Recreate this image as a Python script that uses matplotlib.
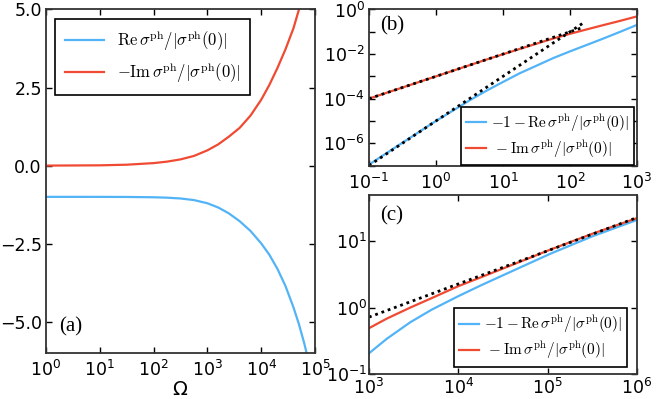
import numpy as np
import matplotlib
matplotlib.use('Agg')
import matplotlib.pyplot as plt

# Couleurs
bleu = '#52b4f7'
rouge = '#f04a32'

# Panneau (a) : Omega, Re sigma, -Im sigma
omega_a = [1, 10, 32, 100, 178, 316, 562, 1000, 1585, 2512, 3981, 6310, 10000,
           14125, 19953, 28184, 39811, 50119, 63096, 79433]
re_a = [-1.0, -1.0006, -1.003, -1.013, -1.026, -1.052, -1.103, -1.205, -1.34,
        -1.53, -1.78, -2.09, -2.49, -2.85, -3.30, -3.85, -4.54, -5.07, -5.69, -6.40]
im_a = [0.001, 0.0098, 0.030, 0.081, 0.128, 0.20, 0.31, 0.49, 0.68, 0.93, 1.21,
        1.60, 2.11, 2.58, 3.12, 3.72, 4.40, 4.99, 5.65, 6.4]

# Panneau (b) : petites frequences
omega_b = [0.1, 0.316, 1.0, 1.78, 3.16, 5.62, 10, 17.8, 31.6, 56.2, 100, 178,
           316, 562, 1000]
re_b = [1.1e-7, 1.05e-6, 1.0e-5, 2.88e-5, 8.3e-5, 2.24e-4, 5.6e-4, 1.38e-3,
        3.0e-3, 6.6e-3, 0.0132, 0.0257, 0.050, 0.100, 0.204]
im_b = [1.0e-4, 3.16e-4, 1.0e-3, 1.78e-3, 3.16e-3, 5.62e-3, 9.8e-3, 0.017,
        0.0292, 0.050, 0.081, 0.128, 0.20, 0.31, 0.49]
asym_x_b = [0.1, 160]
asym_lin_b = [1.0e-4, 0.16]
asym_quad_b = [1.0e-7, 0.256]

# Panneau (c) : grandes frequences
omega_c = [1000, 1585, 2884, 5012, 10000, 17783, 29512, 56234, 107152, 316228, 1000000]
re_c = [0.205, 0.34, 0.60, 0.93, 1.49, 2.16, 2.95, 4.38, 6.5, 11.9, 21.0]
im_c = [0.49, 0.685, 1.00, 1.39, 2.11, 2.86, 3.75, 5.3, 7.5, 13.0, 22.4]
asym_x_c = [1000, 1000000]
asym_c = [0.72, 22.8]

lab_re = r'$\mathrm{Re}\,\sigma^{\mathrm{ph}}/|\sigma^{\mathrm{ph}}(0)|$'
lab_im = r'$-\mathrm{Im}\,\sigma^{\mathrm{ph}}/|\sigma^{\mathrm{ph}}(0)|$'
lab_re2 = r'$-1-\mathrm{Re}\,\sigma^{\mathrm{ph}}/|\sigma^{\mathrm{ph}}(0)|$'
lab_im2 = r'$\,-\mathrm{Im}\,\sigma^{\mathrm{ph}}/|\sigma^{\mathrm{ph}}(0)|$'

pointille = (0, (1, 1.4))


def style_axes(ax, pad_x=5, pad_y=3):
    ax.tick_params(which='both', direction='in', top=True, right=True,
                   labelsize=12.5, width=1, length=4)
    ax.tick_params(axis='y', pad=pad_y)
    ax.tick_params(axis='x', pad=pad_x)
    ax.minorticks_off()
    for s in ax.spines.values():
        s.set_linewidth(1.3)
        s.set_color('#333333')


def legende(ax, h, taille, **kw):
    leg = ax.legend(handles=h, fancybox=False, framealpha=1,
                    prop={'size': taille, 'math_fontfamily': 'cm'}, **kw)
    leg.get_frame().set_edgecolor('black')
    leg.get_frame().set_linewidth(1.2)
    return leg


fig = plt.figure(figsize=(6.64, 3.99), dpi=100)
ax_a = fig.add_axes([0.0693, 0.1153, 0.4051, 0.8609])
ax_b = fig.add_axes([0.5557, 0.5852, 0.4036, 0.3910])
ax_c = fig.add_axes([0.5557, 0.0627, 0.4036, 0.4486])

# (a)
l1, = ax_a.plot(omega_a, re_a, color=bleu, lw=1.6, label=lab_re)
l2, = ax_a.plot(omega_a, im_a, color=rouge, lw=1.6, label=lab_im)
ax_a.set_xscale('log')
ax_a.set_xlim(1, 1e5)
ax_a.set_ylim(-6, 5)
ax_a.set_xticks([1e0, 1e1, 1e2, 1e3, 1e4, 1e5])
ax_a.set_xticklabels([r'$10^{%d}$' % k for k in range(6)])
ax_a.set_yticks([-5, -2.5, 0, 2.5, 5])
ax_a.set_yticklabels(['\u22125.0', '\u22122.5', '0.0', '2.5', '5.0'])
ax_a.set_xlabel(r'$\Omega$', fontsize=14, labelpad=0)
style_axes(ax_a)
legende(ax_a, [l1, l2], 12, loc='upper left', borderaxespad=0.55,
        handlelength=2.3, borderpad=0.6, labelspacing=0.45)
ax_a.text(0.05, 0.075, '(a)', transform=ax_a.transAxes, fontsize=15,
          family='Liberation Serif', va='center')

# (b)
l1, = ax_b.plot(omega_b, re_b, color=bleu, lw=1.6, label=lab_re2)
l2, = ax_b.plot(omega_b, im_b, color=rouge, lw=1.6, label=lab_im2)
ax_b.plot(asym_x_b, asym_lin_b, color='black', lw=2, ls=pointille)
ax_b.plot(asym_x_b, asym_quad_b, color='black', lw=2, ls=pointille)
ax_b.set_xscale('log')
ax_b.set_yscale('log')
ax_b.set_xlim(0.1, 1e3)
ax_b.set_ylim(1e-7, 1)
ax_b.set_xticks([1e-1, 1e0, 1e1, 1e2, 1e3])
ax_b.set_xticklabels([r'$10^{%d}$' % k for k in range(-1, 4)])
ax_b.set_yticks([10.0 ** k for k in range(-7, 1)])
ax_b.set_yticklabels([r'$10^{%d}$' % k if k % 2 == 0 else '' for k in range(-7, 1)])
style_axes(ax_b)
legende(ax_b, [l1, l2], 11, loc='lower right', bbox_to_anchor=(0.99, 0.003),
        borderaxespad=0, handlelength=1.3, handletextpad=0.3, borderpad=0.35,
        labelspacing=0.3)
ax_b.text(0.04, 0.895, '(b)', transform=ax_b.transAxes, fontsize=15,
          family='Liberation Serif', va='center')

# (c)
l1, = ax_c.plot(omega_c, re_c, color=bleu, lw=1.6, label=lab_re2)
l2, = ax_c.plot(omega_c, im_c, color=rouge, lw=1.6, label=lab_im2)
ax_c.plot(asym_x_c, asym_c, color='black', lw=2, ls=pointille)
ax_c.set_xscale('log')
ax_c.set_yscale('log')
ax_c.set_xlim(1e3, 1e6)
ax_c.set_ylim(0.1, 50)
ax_c.set_xticks([1e3, 1e4, 1e5, 1e6])
ax_c.set_xticklabels([r'$10^{%d}$' % k for k in range(3, 7)])
ax_c.set_yticks([0.1, 1, 10])
ax_c.set_yticklabels([r'$10^{-1}$', r'$10^{0}$', r'$10^{1}$'])
style_axes(ax_c, pad_x=2.5, pad_y=1.5)
legende(ax_c, [l1, l2], 11, loc='lower right', bbox_to_anchor=(0.963, 0.04),
        borderaxespad=0, handlelength=1.3, handletextpad=0.3, borderpad=0.35,
        labelspacing=0.3)
ax_c.text(0.04, 0.885, '(c)', transform=ax_c.transAxes, fontsize=15,
          family='Liberation Serif', va='center')

fig.savefig('out.png', dpi=100)
